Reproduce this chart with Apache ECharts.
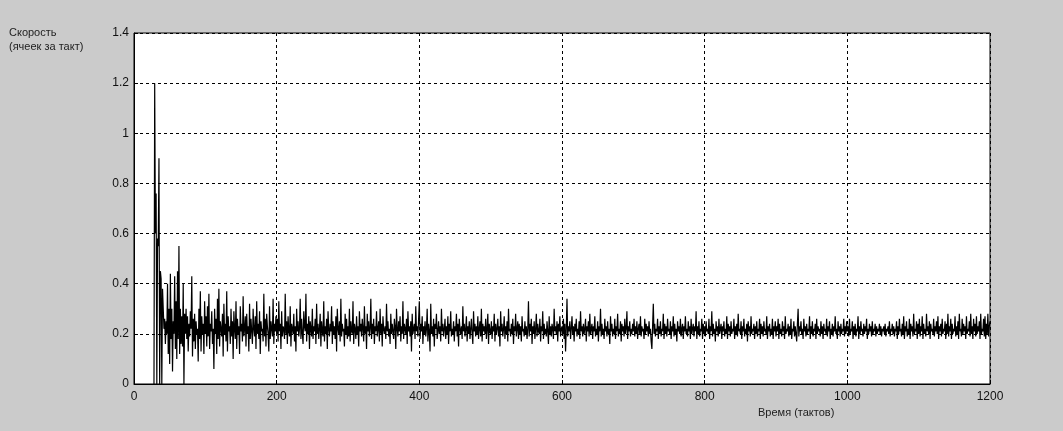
<!DOCTYPE html>
<html>
<head>
<meta charset="utf-8">
<script src="https://cdn.jsdelivr.net/npm/echarts@6/dist/echarts.min.js"></script>
<style>
  html, body { margin: 0; padding: 0; background: #cbcbcb; }
  #chart { width: 1063px; height: 431px; }
</style>
</head>
<body>
<div id="chart"></div>
<script>
// first tact that has a value
var startTact = 28;

// speed (cells per tact) in blocks of 100 tacts
var speed0028 = [0,1.2,0.6,0.76,0,0.58,0.55,0.9,0,0.45,0.42,0,
  0.38,0.3,0.22,0.26,0.16,0.25,0.2,0.4,0.12,0.3,0.08,0.44,0.18,0.3,0.05,0.25,0.2,0.43,
  0.14,0.33,0.1,0.45,0.18,0.55,0.12,0.3,0.16,0.27,0.15,0.4,0,0.28,0.2,0.3,0.18,0.27,
  0.13,0.24,0.19,0.29,0.22,0.43,0.11,0.26,0.17,0.28,0.14,0.25,0.2,0.22,0.09,0.3,0.18,
  0.37,0.13,0.27,0.2,0.24,0.12,0.33];
var speed0100 = [0.2,0.27,0.15,0.31,0.19,0.36,0.14,0.24,0.21,0.29,
  0.16,0.22,0.06,0.3,0.2,0.26,0.12,0.34,0.18,0.38,
  0.15,0.25,0.22,0.19,0.28,0.11,0.32,0.2,0.24,0.17,
  0.37,0.13,0.27,0.21,0.23,0.16,0.3,0.19,0.25,0.1,
  0.29,0.22,0.18,0.33,0.14,0.26,0.2,0.23,0.12,0.31,
  0.21,0.24,0.17,0.35,0.19,0.22,0.27,0.15,0.28,0.2,
  0.23,0.13,0.32,0.18,0.26,0.21,0.16,0.3,0.22,0.19,
  0.27,0.14,0.33,0.2,0.24,0.18,0.29,0.12,0.25,0.21,
  0.22,0.17,0.36,0.19,0.26,0.15,0.28,0.23,0.2,0.13,
  0.31,0.18,0.25,0.22,0.19,0.34,0.16,0.24,0.21,0.27];
var speed0200 = [0.2,0.26,0.17,0.33,0.21,0.24,0.14,0.29,0.19,0.23,
  0.22,0.18,0.36,0.2,0.25,0.16,0.27,0.21,0.19,0.31,
  0.15,0.24,0.22,0.2,0.28,0.17,0.23,0.13,0.3,0.21,
  0.25,0.19,0.22,0.34,0.18,0.26,0.2,0.16,0.29,0.23,
  0.21,0.36,0.17,0.24,0.2,0.27,0.14,0.25,0.22,0.19,
  0.3,0.18,0.23,0.21,0.26,0.16,0.32,0.2,0.24,0.18,
  0.22,0.28,0.15,0.25,0.21,0.19,0.33,0.17,0.23,0.2,
  0.26,0.14,0.29,0.22,0.19,0.24,0.21,0.31,0.16,0.25,
  0.2,0.23,0.18,0.27,0.13,0.3,0.22,0.2,0.25,0.17,
  0.34,0.19,0.24,0.21,0.22,0.15,0.28,0.2,0.26,0.18];
var speed0300 = [0.23,0.19,0.3,0.17,0.25,0.21,0.2,0.33,0.16,0.24,
  0.22,0.18,0.27,0.2,0.23,0.15,0.29,0.21,0.24,0.19,
  0.26,0.22,0.17,0.31,0.2,0.23,0.14,0.28,0.21,0.25,
  0.19,0.22,0.34,0.18,0.24,0.2,0.26,0.16,0.23,0.21,
  0.29,0.19,0.22,0.25,0.17,0.3,0.2,0.24,0.15,0.27,
  0.22,0.2,0.23,0.18,0.32,0.21,0.25,0.19,0.22,0.16,
  0.28,0.2,0.24,0.21,0.18,0.26,0.23,0.14,0.3,0.22,
  0.19,0.25,0.21,0.27,0.17,0.23,0.2,0.33,0.18,0.24,
  0.22,0.2,0.26,0.16,0.29,0.21,0.23,0.19,0.25,0.13,
  0.28,0.2,0.22,0.24,0.18,0.31,0.21,0.23,0.19,0.26];
var speed0400 = [0.33,0.18,0.24,0.21,0.27,0.16,0.23,0.2,0.25,0.19,
  0.22,0.3,0.17,0.24,0.21,0.13,0.32,0.2,0.23,0.19,
  0.26,0.15,0.24,0.22,0.28,0.18,0.21,0.25,0.2,0.23,
  0.17,0.3,0.21,0.24,0.19,0.22,0.26,0.18,0.23,0.2,
  0.27,0.16,0.24,0.21,0.29,0.19,0.22,0.2,0.25,0.17,
  0.23,0.21,0.28,0.19,0.24,0.15,0.26,0.22,0.2,0.23,
  0.18,0.31,0.21,0.24,0.19,0.22,0.27,0.17,0.23,0.2,
  0.25,0.18,0.22,0.26,0.2,0.16,0.29,0.21,0.24,0.19,
  0.23,0.2,0.27,0.18,0.22,0.25,0.19,0.3,0.17,0.24,
  0.21,0.23,0.2,0.26,0.18,0.22,0.28,0.16,0.24,0.21];
var speed0500 = [0.2,0.25,0.18,0.23,0.21,0.28,0.17,0.24,0.2,0.22,
  0.26,0.19,0.23,0.15,0.29,0.21,0.24,0.19,0.22,0.27,
  0.18,0.23,0.2,0.25,0.17,0.3,0.21,0.22,0.19,0.24,
  0.2,0.26,0.16,0.23,0.21,0.28,0.19,0.22,0.25,0.18,
  0.24,0.2,0.23,0.17,0.27,0.21,0.22,0.19,0.25,0.2,
  0.23,0.18,0.22,0.33,0.19,0.24,0.21,0.26,0.16,0.23,
  0.2,0.25,0.18,0.22,0.28,0.19,0.24,0.21,0.2,0.26,
  0.17,0.23,0.21,0.29,0.18,0.24,0.2,0.22,0.19,0.25,
  0.21,0.16,0.27,0.2,0.23,0.19,0.24,0.22,0.18,0.3,
  0.21,0.23,0.2,0.25,0.17,0.24,0.21,0.27,0.19,0.22];
var speed0600 = [0.23,0.2,0.26,0.18,0.24,0.13,0.22,0.34,0.19,0.23,
  0.21,0.25,0.18,0.22,0.27,0.2,0.23,0.17,0.24,0.21,
  0.26,0.19,0.22,0.2,0.25,0.18,0.29,0.21,0.23,0.19,
  0.24,0.2,0.22,0.26,0.17,0.23,0.21,0.25,0.19,0.28,
  0.2,0.22,0.24,0.18,0.23,0.21,0.27,0.19,0.22,0.2,
  0.25,0.17,0.23,0.21,0.3,0.19,0.24,0.2,0.22,0.18,
  0.26,0.21,0.23,0.19,0.25,0.2,0.22,0.16,0.27,0.21,
  0.24,0.19,0.22,0.2,0.26,0.18,0.23,0.21,0.28,0.19,
  0.22,0.2,0.25,0.17,0.24,0.21,0.23,0.19,0.26,0.2,
  0.22,0.29,0.18,0.23,0.21,0.25,0.19,0.22,0.2,0.24];
var speed0700 = [0.21,0.26,0.19,0.23,0.2,0.25,0.18,0.22,0.24,0.2,
  0.27,0.19,0.23,0.21,0.22,0.18,0.26,0.2,0.24,0.21,
  0.23,0.19,0.25,0.2,0.22,0.17,0.14,0.23,0.32,0.2,
  0.24,0.19,0.22,0.21,0.26,0.18,0.23,0.2,0.25,0.19,
  0.22,0.21,0.28,0.18,0.24,0.2,0.23,0.19,0.26,0.21,
  0.22,0.2,0.25,0.18,0.23,0.21,0.27,0.19,0.24,0.2,
  0.22,0.17,0.25,0.21,0.23,0.2,0.26,0.19,0.22,0.24,
  0.18,0.23,0.21,0.27,0.2,0.22,0.19,0.25,0.21,0.23,
  0.18,0.26,0.2,0.22,0.24,0.19,0.23,0.21,0.29,0.18,
  0.23,0.2,0.25,0.19,0.22,0.21,0.26,0.18,0.24,0.2];
var speed0800 = [0.23,0.19,0.25,0.21,0.22,0.2,0.26,0.18,0.23,0.21,
  0.29,0.19,0.24,0.2,0.22,0.17,0.25,0.21,0.23,0.19,
  0.26,0.2,0.22,0.24,0.18,0.23,0.21,0.25,0.19,0.22,
  0.2,0.27,0.18,0.24,0.21,0.23,0.19,0.25,0.2,0.22,
  0.21,0.26,0.18,0.23,0.2,0.24,0.19,0.28,0.21,0.22,
  0.2,0.25,0.18,0.23,0.21,0.26,0.19,0.22,0.2,0.24,
  0.17,0.25,0.21,0.23,0.19,0.27,0.2,0.22,0.21,0.24,
  0.18,0.23,0.2,0.25,0.19,0.22,0.21,0.26,0.18,0.24,
  0.2,0.23,0.19,0.25,0.21,0.22,0.2,0.27,0.18,0.23,
  0.21,0.24,0.19,0.22,0.2,0.26,0.18,0.23,0.21,0.25];
var speed0900 = [0.19,0.23,0.21,0.26,0.18,0.24,0.2,0.22,0.19,0.25,
  0.21,0.23,0.18,0.27,0.2,0.22,0.21,0.24,0.19,0.23,
  0.2,0.26,0.18,0.22,0.21,0.25,0.19,0.23,0.2,0.17,
  0.24,0.3,0.19,0.23,0.21,0.25,0.2,0.22,0.18,0.26,
  0.21,0.23,0.19,0.24,0.2,0.22,0.21,0.27,0.18,0.23,
  0.2,0.25,0.19,0.22,0.21,0.24,0.18,0.26,0.2,0.23,
  0.21,0.22,0.19,0.25,0.2,0.23,0.18,0.24,0.21,0.22,
  0.2,0.26,0.19,0.23,0.21,0.25,0.18,0.22,0.2,0.24,
  0.19,0.23,0.21,0.27,0.2,0.22,0.18,0.25,0.21,0.23,
  0.19,0.24,0.2,0.22,0.21,0.26,0.19,0.23,0.2,0.25];
var speed1000 = [0.21,0.23,0.19,0.26,0.2,0.22,0.21,0.25,0.18,0.23,
  0.2,0.24,0.19,0.22,0.21,0.27,0.18,0.23,0.2,0.25,
  0.21,0.22,0.19,0.24,0.2,0.23,0.21,0.26,0.18,0.22,
  0.2,0.24,0.21,0.23,0.19,0.25,0.2,0.22,0.21,0.24,
  0.19,0.23,0.2,0.22,0.21,0.24,0.2,0.23,0.19,0.22,
  0.21,0.23,0.2,0.24,0.19,0.22,0.21,0.23,0.2,0.25,
  0.19,0.22,0.21,0.24,0.2,0.23,0.19,0.22,0.21,0.25,
  0.18,0.23,0.2,0.26,0.21,0.22,0.19,0.24,0.2,0.27,
  0.18,0.23,0.21,0.25,0.19,0.22,0.2,0.26,0.18,0.24,
  0.21,0.23,0.19,0.28,0.2,0.22,0.21,0.25,0.18,0.24];
var speed1100 = [0.2,0.26,0.19,0.23,0.21,0.27,0.18,0.24,0.2,0.22,
  0.19,0.28,0.21,0.23,0.2,0.25,0.18,0.24,0.21,0.22,
  0.2,0.26,0.19,0.23,0.21,0.25,0.2,0.27,0.18,0.23,
  0.21,0.24,0.19,0.26,0.2,0.22,0.21,0.25,0.18,0.24,
  0.2,0.28,0.19,0.23,0.21,0.26,0.18,0.24,0.2,0.22,
  0.21,0.27,0.19,0.23,0.2,0.25,0.18,0.28,0.21,0.22,
  0.19,0.26,0.2,0.24,0.21,0.23,0.18,0.27,0.2,0.22,
  0.21,0.25,0.19,0.28,0.2,0.23,0.18,0.26,0.21,0.24,
  0.19,0.27,0.2,0.23,0.21,0.25,0.18,0.28,0.2,0.22,
  0.21,0.26,0.19,0.27,0.18,0.24,0.2,0.28,0.19,0.23,
  0.25];

var xTicks = [0, 200, 400, 600, 800, 1000, 1200];
var yTicks = [0, 0.2, 0.4, 0.6, 0.8, 1, 1.2, 1.4];

var speed = [].concat(speed0028, speed0100, speed0200, speed0300, speed0400,
  speed0500, speed0600, speed0700, speed0800, speed0900, speed1000, speed1100);
var points = speed.map(function (v, i) { return [startTact + i, v]; });

var font = 'Liberation Sans, Arial, sans-serif';
var gridDash = { color: '#000', width: 1, type: [3, 3] };

var option = {
  animation: false,
  backgroundColor: '#cbcbcb',
  textStyle: { fontFamily: font },
  title: {
    text: 'Скорость\n(ячеек за такт)',
    left: 9,
    top: 26,
    padding: 0,
    textStyle: { fontSize: 11, fontWeight: 'normal', color: '#222', lineHeight: 14, fontFamily: font }
  },
  graphic: [{
    type: 'text',
    left: 758,
    top: 407,
    style: { text: 'Время (тактов)', fontSize: 11, fill: '#222', fontFamily: font }
  }],
  grid: {
    left: 134, right: 73, top: 33, bottom: 47,
    show: true, backgroundColor: '#fff', borderColor: '#000', borderWidth: 1
  },
  xAxis: {
    type: 'value',
    min: xTicks[0],
    max: xTicks[xTicks.length - 1],
    interval: xTicks[1] - xTicks[0],
    axisLine: { lineStyle: { color: '#000' } },
    axisTick: { inside: true, length: 4, lineStyle: { color: '#000' } },
    axisLabel: { color: '#111', fontSize: 12, margin: 7, formatter: function (v) { return String(v); } },
    splitLine: { show: true, lineStyle: gridDash }
  },
  yAxis: {
    type: 'value',
    min: yTicks[0],
    max: yTicks[yTicks.length - 1],
    interval: 0.2,
    axisLine: { show: true, lineStyle: { color: '#000' } },
    axisTick: { show: true, inside: true, length: 4, lineStyle: { color: '#000' } },
    axisLabel: { color: '#111', fontSize: 12, margin: 5 },
    splitLine: { show: true, lineStyle: gridDash }
  },
  series: [{
    type: 'line',
    data: points,
    showSymbol: false,
    sampling: null,
    clip: true,
    lineStyle: { color: '#000', width: 1.2 }
  }]
};

var myChart = echarts.init(document.getElementById('chart'), null, { renderer: 'canvas' });
myChart.setOption(option);
</script>
</body>
</html>
